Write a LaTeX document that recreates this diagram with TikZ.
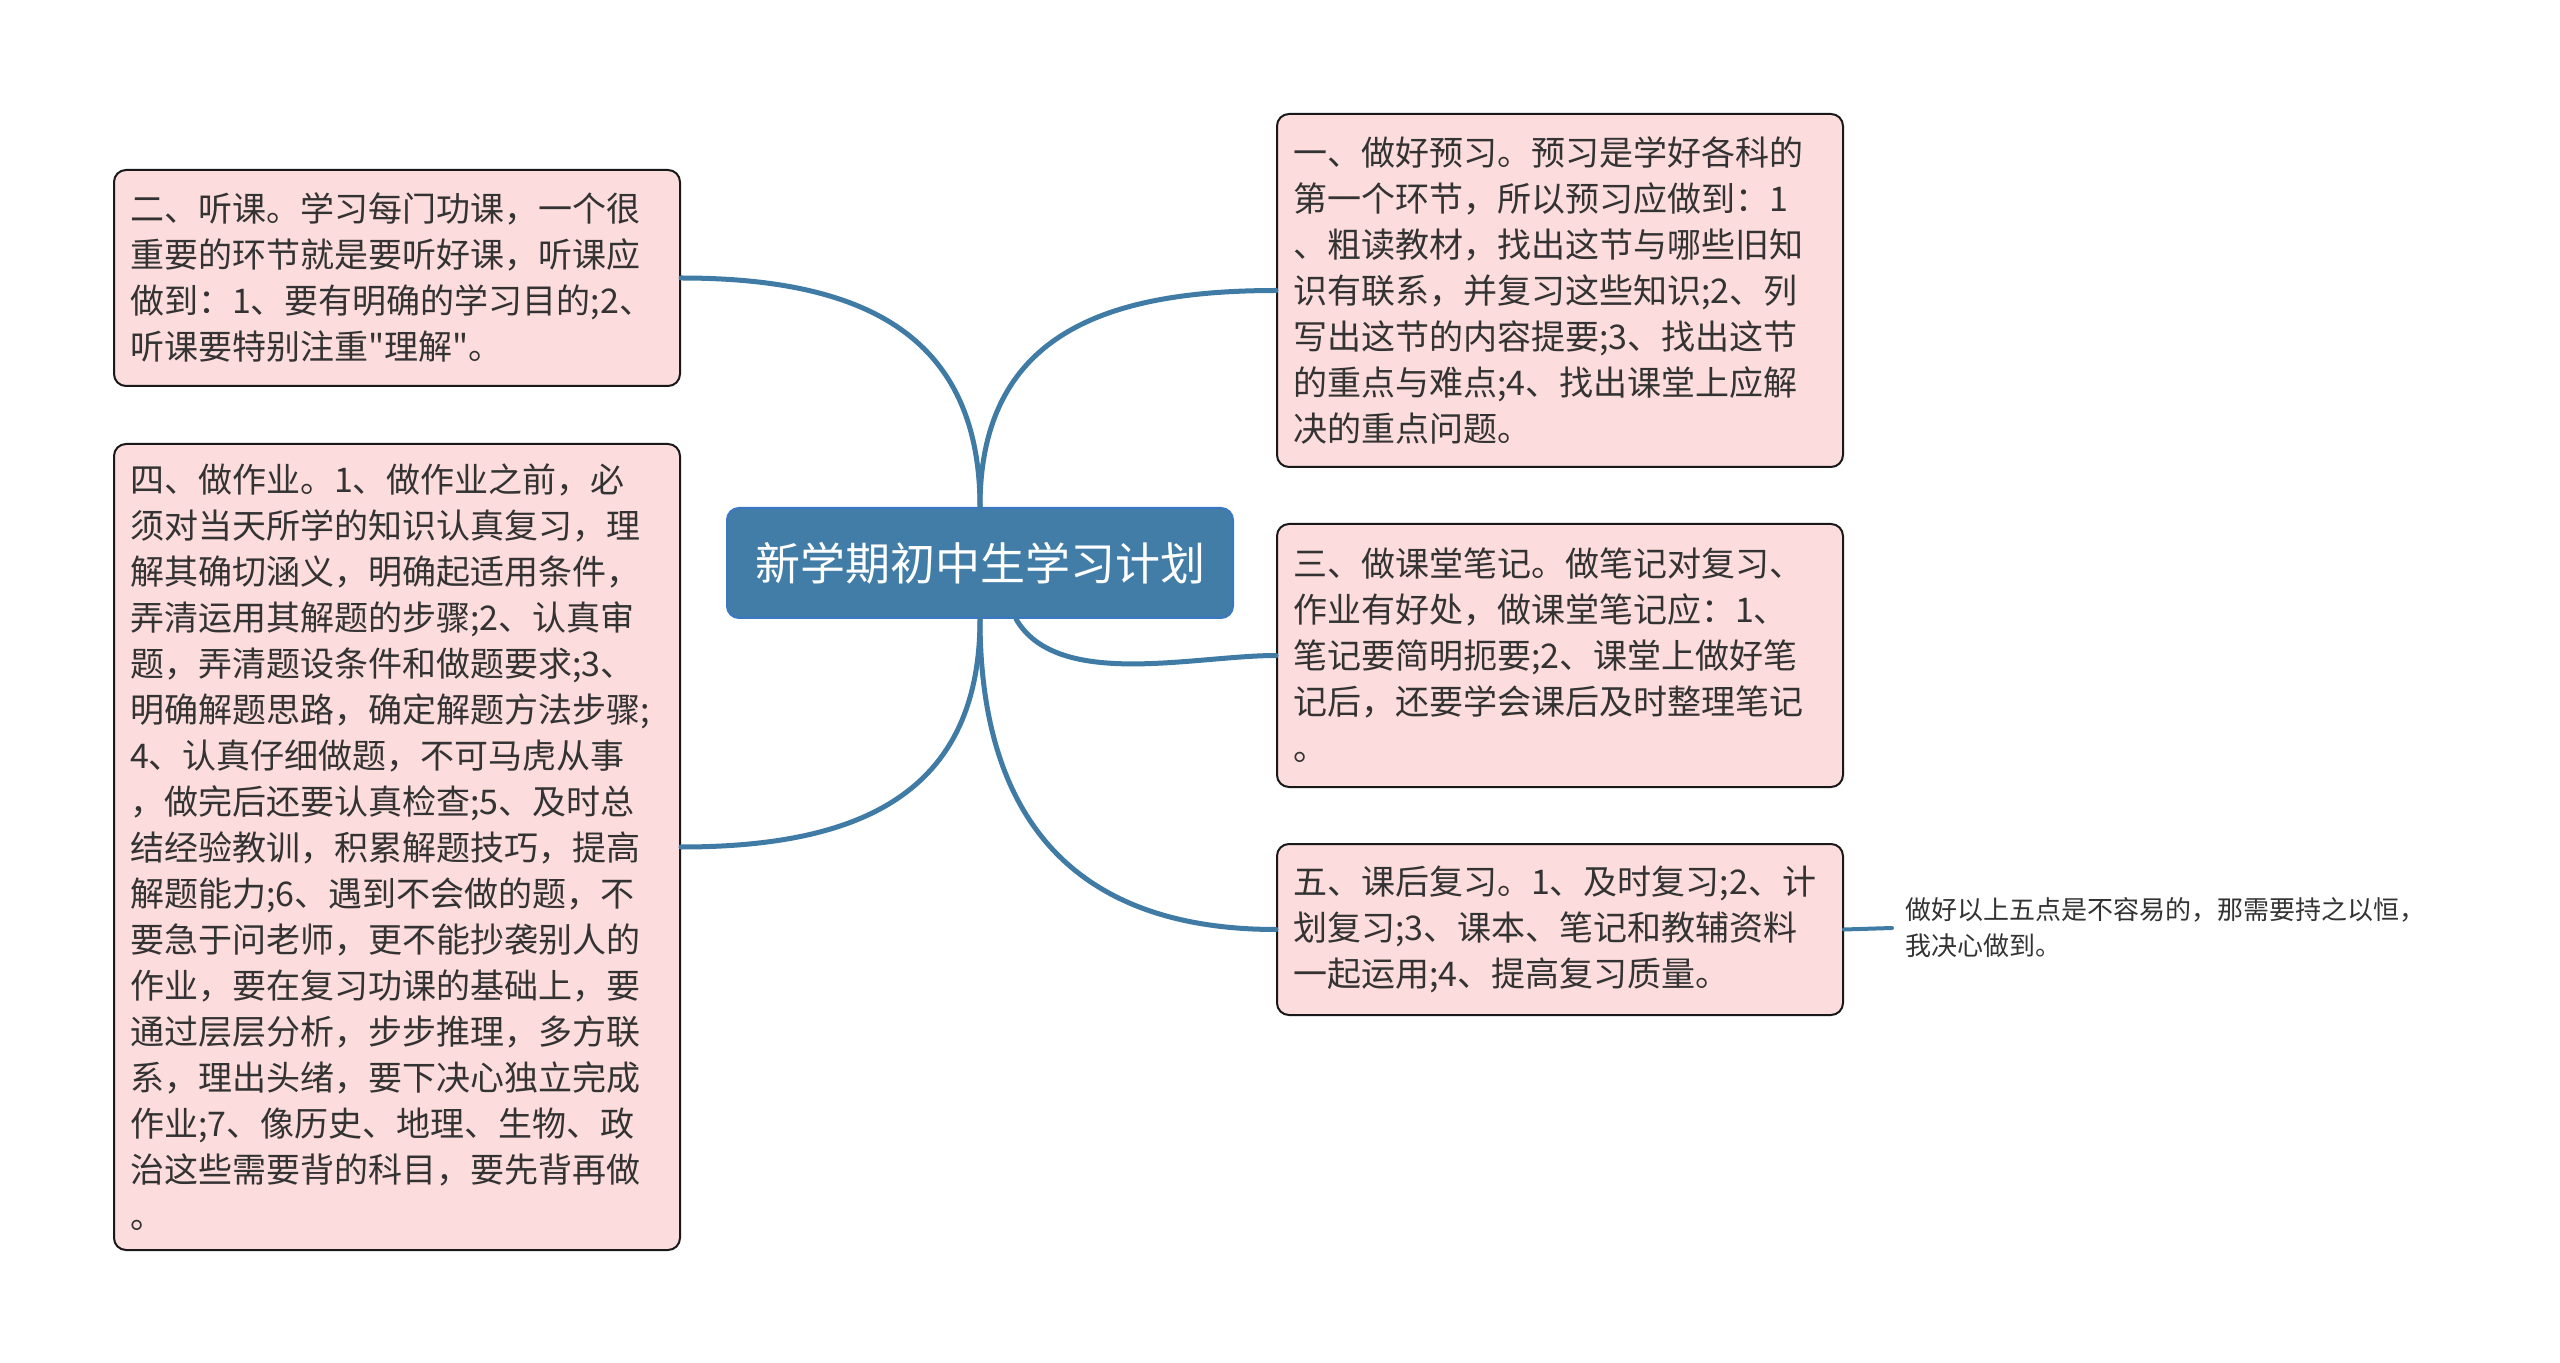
\documentclass[tikz,border=0pt]{standalone}
\usepackage{fontspec}
\setmainfont{Noto Sans CJK SC}[Ligatures=TeXOff]
\usetikzlibrary{calc}

\definecolor{branch}{HTML}{3F7BA4}
\definecolor{rootfill}{HTML}{417DA6}
\definecolor{rootline}{HTML}{3A78C4}
\definecolor{topicfill}{HTML}{FCDCDC}
\definecolor{ink}{HTML}{333333}

\begin{document}
\begin{tikzpicture}[x=0.5pt,y=-0.5pt,
    topic/.style={draw=black!90, line width=1pt, fill=topicfill, rounded corners=6pt,
        anchor=north west, minimum width=283pt, text width=267pt,
        inner xsep=8pt, inner ysep=4pt, align=left, text=ink,
        font=\fontsize{17pt}{23pt}\selectfont},
    link/.style={draw=branch, line width=2.5pt, line cap=round}]

    \useasboundingbox (0,0) rectangle (2560,1363);

    % centre
    \node[draw=rootline, line width=1pt, fill=rootfill, rounded corners=6pt,
        minimum width=253pt, minimum height=55pt, text=white,
        font=\fontsize{22.5pt}{27pt}\selectfont] at (980,563) (root) {新学期初中生学习计划};

    % topics
    \node[topic, minimum height=176.5pt] at (1276,113) (yuxi) {一、做好预习。预习是学好各科的\\第一个环节，所以预习应做到：1\\、粗读教材，找出这节与哪些旧知\\识有联系，并复习这些知识;2、列\\写出这节的内容提要;3、找出这节\\的重点与难点;4、找出课堂上应解\\决的重点问题。};
    \node[topic, minimum height=108pt] at (113,169) (tingke) {二、听课。学习每门功课，一个很\\重要的环节就是要听好课，听课应\\做到：1、要有明确的学习目的;2、\\听课要特别注重"理解"。};
    \node[topic, minimum height=131.5pt] at (1276,523) (biji) {三、做课堂笔记。做笔记对复习、\\作业有好处，做课堂笔记应：1、\\笔记要简明扼要;2、课堂上做好笔\\记后，还要学会课后及时整理笔记\\。};
    \node[topic, minimum height=403pt] at (113,443) (zuoye) {四、做作业。1、做作业之前，必\\须对当天所学的知识认真复习，理\\解其确切涵义，明确起适用条件，\\弄清运用其解题的步骤;2、认真审\\题，弄清题设条件和做题要求;3、\\明确解题思路，确定解题方法步骤;\\4、认真仔细做题，不可马虎从事\\，做完后还要认真检查;5、及时总\\结经验教训，积累解题技巧，提高\\解题能力;6、遇到不会做的题，不\\要急于问老师，更不能抄袭别人的\\作业，要在复习功课的基础上，要\\通过层层分析，步步推理，多方联\\系，理出头绪，要下决心独立完成\\作业;7、像历史、地理、生物、政\\治这些需要背的科目，要先背再做\\。};
    \node[topic, minimum height=85.5pt] at (1276,843) (fuxi) {五、课后复习。1、及时复习;2、计\\划复习;3、课本、笔记和教辅资料\\一起运用;4、提高复习质量。};

    \node[anchor=west, inner xsep=6.5pt, align=left, text=ink,
        font=\fontsize{13pt}{18pt}\selectfont] at (1892,928) (jiewei) {做好以上五点是不容易的，那需要持之以恒，\\我决心做到。};

    % branches
    \draw[link] (root.north) to[out=90, in=0, looseness=1.2] (tingke.east);
    \draw[link] (root.north) to[out=90, in=180, looseness=1.2] (yuxi.west);
    \draw[link] ([xshift=18pt]root.south) to[out=-60, in=180, looseness=0.8] (biji.west);
    \draw[link] (root.south) to[out=-90, in=0, looseness=1.2] (zuoye.east);
    \draw[link] (root.south) to[out=-90, in=180, looseness=1.2] (fuxi.west);
    \draw[link, line width=2pt] (fuxi.east) -- (jiewei.west);

\end{tikzpicture}
\end{document}
